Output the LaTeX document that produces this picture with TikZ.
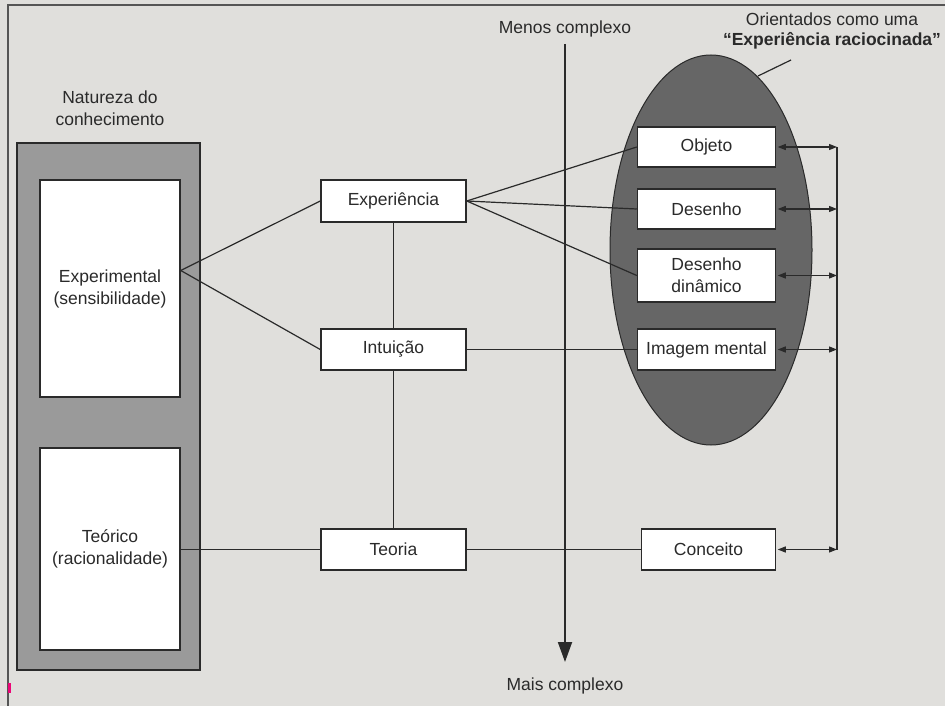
\documentclass[tikz,border=0pt]{standalone}
\usepackage{fontspec}
\setmainfont{Liberation Sans}
\usetikzlibrary{arrows.meta,shapes.geometric,calc}
\definecolor{bg}{HTML}{E0DFDC}
\definecolor{panel}{HTML}{9A9A9A}
\definecolor{ell}{HTML}{666666}
\definecolor{ink}{HTML}{2A2A2A}
\definecolor{frame}{HTML}{555555}
\pgfdeclarelayer{back}
\pgfdeclarelayer{mid}
\pgfsetlayers{back,mid,main}
\begin{document}
\begin{tikzpicture}[x=1pt,y=-1pt,
  txt/.style={font=\fontsize{17.5}{22}\selectfont, text=ink, align=center},
  wbox/.style={txt, draw=ink, line width=1.5pt, fill=white, inner sep=0pt},
  conn/.style={draw=ink, line width=1.2pt},
  dbl/.style={conn, {Triangle[length=8pt,width=6pt]}-{Triangle[length=8pt,width=6pt]}}
]
\useasboundingbox (0,0) rectangle (945,706);
\begin{pgfonlayer}{back}
\fill[bg] (0,0) rectangle (945,706);
\draw[frame, line width=1.5pt] (8,706) -- (8,5) -- (945,5);
\fill[magenta!80!red] (7.5,683) rectangle (10.5,693);
\node[draw=ink, line width=1.4pt, fill=panel, minimum width=183pt, minimum height=527pt, inner sep=0pt] (panel) at (108.5,406.5) {};
\node[ellipse, draw=ink, line width=1pt, fill=ell, minimum width=202pt, minimum height=390pt, inner sep=0pt] (ell) at (711,250) {};
\end{pgfonlayer}

\node[txt] (natureza) at (110,108) {Natureza do\\conhecimento};
\node[txt] (orient) at (832,19) {Orientados como uma};
\node[txt, font=\fontsize{17.5}{22}\selectfont\bfseries] (raciocinada) at (832,41) {“Experiência raciocinada”};

% boxes
\node[wbox, minimum width=140pt, minimum height=217pt] (experimental) at (110,288.5) {Experimental\\(sensibilidade)};
\node[wbox, minimum width=140pt, minimum height=202pt] (teorico) at (110,549) {Teórico\\(racionalidade)};

\node[wbox, minimum width=145pt, minimum height=42pt] (exp) at (393.5,201) {Experiência};
\node[wbox, minimum width=145pt, minimum height=41pt] (int) at (393.5,349.5) {Intuição};
\node[wbox, minimum width=145pt, minimum height=41pt] (teo) at (393.5,549.5) {Teoria};

\node[wbox, minimum width=138pt, minimum height=40pt] (objeto) at (706.5,147) {Objeto};
\node[wbox, minimum width=138pt, minimum height=40pt] (desenho) at (706.5,209) {Desenho};
\node[wbox, minimum width=138pt, minimum height=53pt] (dinamico) at (706.5,275.5) {Desenho\\dinâmico};
\node[wbox, minimum width=138pt, minimum height=41pt] (imagem) at (706.5,349.5) {Imagem mental};
\node[wbox, minimum width=134pt, minimum height=41pt] (conceito) at (708.5,549.5) {Conceito};

\node[txt] (menos) at (565,29) {Menos complexo};
\node[txt] (mais) at (565,686) {Mais complexo};

\coordinate (calloutA) at (758,76);
\coordinate (calloutB) at (791,60);
\coordinate (arrTop) at (565,44);
\coordinate (arrBot) at (565,662);
\coordinate (bTop) at (837,147);
\coordinate (bBot) at (837,549.5);

\begin{pgfonlayer}{mid}
\draw[conn] (calloutA) -- (calloutB);
\coordinate (expR) at ($(experimental.east)+(0,-18)$);
\draw[conn] (expR) -- (exp.west);
\draw[conn] (expR) -- (int.west);
\draw[conn] (teorico.east |- teo.west) -- (teo.west);
\draw[conn] (exp.south) -- (teo.north);
\draw[conn] (exp.east) -- (objeto.west);
\draw[conn] (exp.east) -- (desenho.west);
\draw[conn] (exp.east) -- (dinamico.west);
\draw[conn] (int.east) -- (imagem.west);
\draw[conn] (teo.east) -- (conceito.west);
\draw[conn] (bTop) -- (bBot);
\end{pgfonlayer}

% central arrow
\draw[conn, line width=1.9pt, -{Triangle[length=20pt,width=14pt]}] (arrTop) -- (arrBot);

% bracket arrows
\foreach \b in {objeto,desenho,dinamico,imagem,conceito}{
  \draw[dbl] ($(\b.east)+(1.5,0)$) -- (\b.east -| bTop);
}
\end{tikzpicture}
\end{document}
